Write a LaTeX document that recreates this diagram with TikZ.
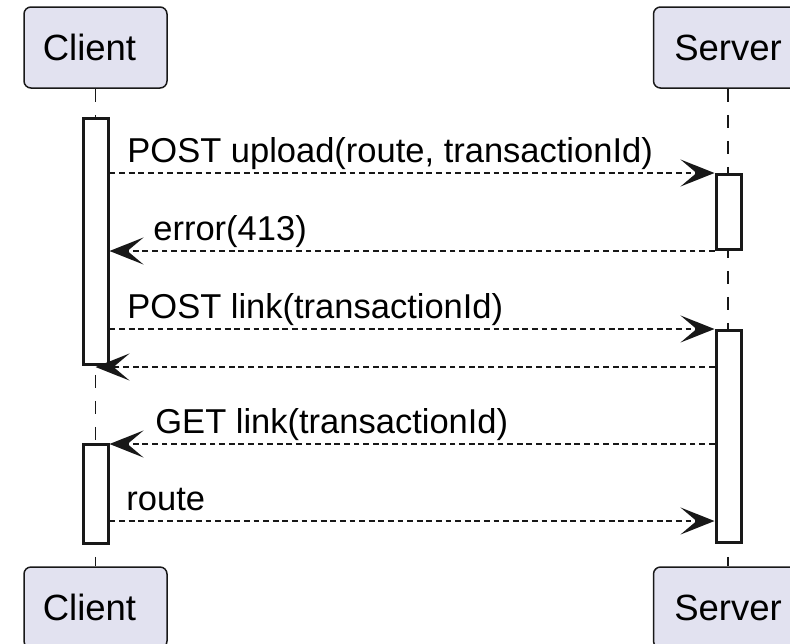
\documentclass[tikz,border=0pt]{standalone}
\usepackage{fontspec}
\setmainfont{Liberation Sans}
\usetikzlibrary{arrows.meta}
\definecolor{ink}{HTML}{181818}
\definecolor{partfill}{HTML}{E2E2F0}

\begin{document}
\begin{tikzpicture}[x=0.5pt,y=-0.5pt,
  part/.style={draw=ink, fill=partfill, line width=0.75pt, rounded corners=3.5pt,
    minimum height=40.5pt, inner sep=0pt, font=\fontsize{18.25pt}{22pt}\selectfont},
  actbar/.style={draw=ink, fill=white, line width=1.5pt, minimum width=12.5pt, inner sep=0pt},
  lifeline/.style={draw=ink, line width=0.75pt, dash pattern=on 6.5pt off 6.5pt},
  msg/.style={draw=ink, line width=1pt, dash pattern=on 2.9pt off 1.9pt,
    -{Stealth[length=17pt,width=13.5pt,inset=8pt]}},
  msglabel/.style={anchor=base west, inner sep=0pt, font=\fontsize{17.25pt}{20pt}\selectfont}
]
\useasboundingbox (0,0) rectangle (790,643);
\clip (0,0) rectangle (790,643);

% participants, head and foot
\node[part, minimum width=71.5pt] (ct) at (95.5,47.5) {Client\hspace*{6pt}};
\node[part, minimum width=74.5pt] (st) at (728,47.5) {Server};
\node[part, minimum width=71.5pt] (cf) at (95.5,607.5) {Client\hspace*{6pt}};
\node[part, minimum width=74.5pt] (sf) at (728,607.5) {Server};

% lifelines
\draw[lifeline] (ct.south) -- (cf.north);
\draw[lifeline] (st.south) -- (sf.north);

% activation bars
\node[actbar, minimum height=123pt] (cb1) at (95.5,241.5) {};
\node[actbar, minimum height=49.5pt] (cb2) at (95.5,494) {};
\node[actbar, minimum height=37.5pt] (sb1) at (728.5,212) {};
\node[actbar, minimum height=106pt] (sb2) at (728.5,436.5) {};

% message heights
\coordinate (y1) at (0,173);
\coordinate (y2) at (0,251);
\coordinate (y3) at (0,329);
\coordinate (y4) at (0,367);
\coordinate (y5) at (0,444);
\coordinate (y6) at (0,521);

% messages
\draw[msg] (cb1.east |- y1) -- (sb1.west |- y1);
\draw[msg] (sb1.west |- y2) -- (cb1.east |- y2);
\draw[msg] (cb1.east |- y3) -- (sb2.west |- y3);
\draw[msg] (sb2.west |- y4) -- (cb1.south |- y4);
\draw[msg] (sb2.west |- y5) -- (cb2.east |- y5);
\draw[msg] (cb2.east |- y6) -- (sb2.west |- y6);

% message labels
\node[msglabel] (l1) at (127,162) {POST upload(route, transactionId)};
\node[msglabel] (l2) at (153,240) {error(413)};
\node[msglabel] (l3) at (127,318) {POST link(transactionId)};
\node[msglabel] (l5) at (155,433) {GET link(transactionId)};
\node[msglabel] (l6) at (126,510) {route};
\end{tikzpicture}
\end{document}
